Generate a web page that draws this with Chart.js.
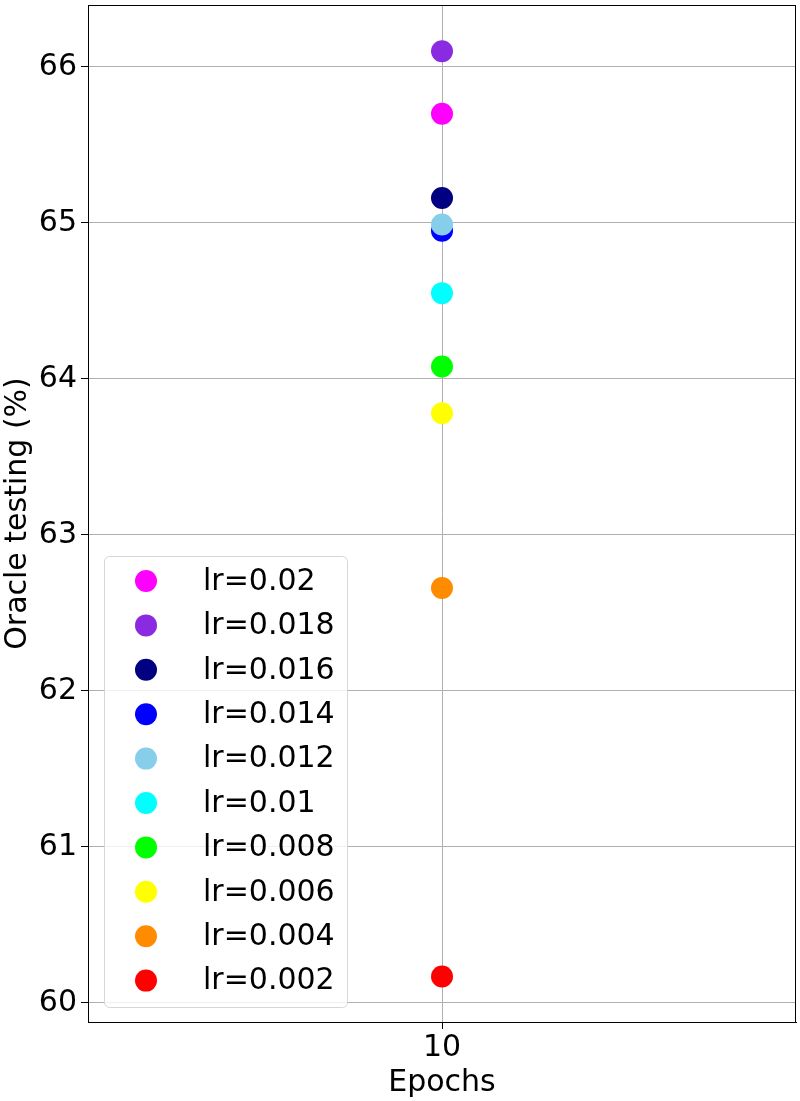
<!DOCTYPE html>
<html>
<head>
<meta charset="utf-8">
<script src="https://cdn.jsdelivr.net/npm/chart.js@4"></script>
<style>
html,body{margin:0;padding:0;background:#fff;}
canvas{display:block;}
</style>
</head>
<body>
<canvas id="c" width="800" height="1101"></canvas>
<script>
const categories = ["10"];
const seriesLabels = ["lr=0.02","lr=0.018","lr=0.016","lr=0.014","lr=0.012","lr=0.01","lr=0.008","lr=0.006","lr=0.004","lr=0.002"];
const seriesValues = [65.70, 66.10, 65.16, 64.95, 64.99, 64.55, 64.08, 63.78, 62.66, 60.17];
const seriesColors = ["#ff00ff","#8a2be2","#000080","#0000ff","#87ceeb","#00ffff","#00ff00","#ffff00","#ff8c00","#ff0000"];
const yTicks = [60, 61, 62, 63, 64, 65, 66];
const yMin = 59.878, yMax = 66.397;
const FONT = "'DejaVu Sans', sans-serif";
const FS = 30;

const datasets = seriesLabels.map((lab, i) => ({
  label: lab,
  data: [{x: categories[0], y: seriesValues[i]}],
  backgroundColor: seriesColors[i],
  borderColor: seriesColors[i],
  borderWidth: 0,
  pointRadius: 11,
  pointHoverRadius: 11,
  showLine: false,
  order: -i
}));

const framePlugin = {
  id: 'frame',
  afterDatasetsDraw(chart) {
    const {ctx, chartArea: a} = chart;
    ctx.save();
    ctx.strokeStyle = '#000';
    ctx.lineWidth = 1;
    ctx.strokeRect(a.left + 0.5, a.top + 0.5, a.right - a.left - 1, a.bottom - a.top);
    ctx.restore();
  }
};

const legendPlugin = {
  id: 'innerLegend',
  afterDraw(chart) {
    const {ctx, chartArea: a} = chart;
    const x = a.left + 16, w = 243, h = 451;
    const y = a.bottom - 15 - h;
    ctx.save();
    ctx.beginPath();
    ctx.roundRect(x + 0.5, y + 0.5, w, h, 5);
    ctx.fillStyle = 'rgba(255,255,255,0.8)';
    ctx.fill();
    ctx.strokeStyle = '#d6d6d6';
    ctx.lineWidth = 1;
    ctx.stroke();
    ctx.font = FS + 'px ' + FONT;
    ctx.textBaseline = 'middle';
    ctx.textAlign = 'left';
    chart.data.datasets.forEach((ds, i) => {
      const cy = y + 25 + i * 44.4;
      ctx.beginPath();
      ctx.arc(x + 42, cy, 11, 0, Math.PI * 2);
      ctx.fillStyle = ds.backgroundColor;
      ctx.fill();
      ctx.fillStyle = '#000';
      ctx.fillText(ds.label, x + 99, cy + 1);
    });
    ctx.restore();
  }
};

new Chart(document.getElementById('c'), {
  type: 'scatter',
  data: { labels: categories, datasets },
  options: {
    responsive: false,
    animation: false,
    devicePixelRatio: 1,
    layout: { autoPadding: false, padding: { top: 5, right: 4, left: 0, bottom: 0 } },
    plugins: { legend: { display: false }, tooltip: { enabled: false } },
    scales: {
      x: {
        type: 'category',
        labels: categories,
        offset: true,
        grid: { offset: false, color: '#b0b0b0', tickColor: '#000', tickLength: 7, lineWidth: 1 },
        border: { display: true, color: '#000' },
        ticks: { color: '#000', font: { family: FONT, size: FS }, padding: 1, maxRotation: 0 },
        title: { display: true, text: 'Epochs', color: '#000', font: { family: FONT, size: FS }, padding: { top: 0, bottom: 0 } },
        afterFit(s) { s.height = 79; s.paddingLeft = 0; s.paddingRight = 0; }
      },
      y: {
        type: 'linear',
        min: yMin,
        max: yMax,
        grid: { color: '#b0b0b0', tickColor: '#000', tickLength: 7, lineWidth: 1 },
        border: { display: true, color: '#000' },
        ticks: { color: '#000', font: { family: FONT, size: FS }, padding: 4 },
        afterBuildTicks(s) { s.ticks = yTicks.map(v => ({ value: v })); },
        title: { display: true, text: 'Oracle testing (%)', color: '#000', font: { family: FONT, size: FS }, padding: { top: 0, bottom: 0 } },
        afterFit(s) { s.width = 88; s.paddingTop = 0; s.paddingBottom = 0; }
      }
    }
  },
  plugins: [framePlugin, legendPlugin]
});
</script>
</body>
</html>
